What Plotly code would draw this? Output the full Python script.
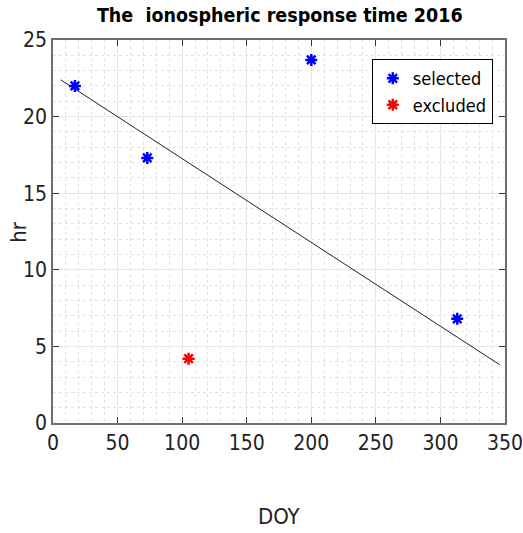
import plotly.graph_objects as go

# Day of year and response time (hours)
selected_doy = [17, 73, 200, 313]
selected_hr = [22.0, 17.3, 23.7, 6.8]
excluded_doy = [105]
excluded_hr = [4.2]

# Trend line end points
fit_doy = [6, 346]
fit_hr = [22.4, 3.8]

x_ticks = [0, 50, 100, 150, 200, 250, 300, 350]
y_ticks = [0, 5, 10, 15, 20, 25]

FONT = "DejaVu Sans Condensed, Liberation Sans, Arial, sans-serif"

fig = go.Figure()
fig.add_trace(go.Scatter(
    x=fit_doy, y=fit_hr, mode="lines",
    line=dict(color="#222222", width=1), showlegend=False, hoverinfo="skip"))
fig.add_trace(go.Scatter(
    x=selected_doy, y=selected_hr, mode="markers", name="selected",
    marker=dict(symbol="asterisk-open", size=10, color="blue",
                line=dict(color="blue", width=2.5))))
fig.add_trace(go.Scatter(
    x=excluded_doy, y=excluded_hr, mode="markers", name="excluded",
    marker=dict(symbol="asterisk-open", size=10, color="red",
                line=dict(color="red", width=2.5))))

axis_common = dict(
    showline=True, linecolor="#6e6e6e", linewidth=1.5, mirror="ticks",
    ticks="inside", ticklen=6, tickcolor="#333333",
    showgrid=True, gridcolor="#e6e6e6", gridwidth=1,
    zeroline=False, automargin=False, ticklabeloverflow="allow",
    tickfont=dict(family=FONT, size=21, color="#222222"),
)

fig.update_xaxes(
    range=[0, 350], tickvals=x_ticks,
    minor=dict(dtick=10, showgrid=True, gridcolor="#e2e2e2", griddash="dot", gridwidth=1),
    **axis_common)
fig.update_yaxes(
    range=[0, 25], tickvals=y_ticks,
    minor=dict(dtick=1, showgrid=True, gridcolor="#e2e2e2", griddash="dot", gridwidth=1),
    **axis_common)

fig.update_layout(
    width=523, height=533,
    margin=dict(l=53, r=18, t=40, b=110),
    paper_bgcolor="white", plot_bgcolor="white",
    title=dict(text="<b>The\u00a0 ionospheric response time 2016</b>",
               x=0.535, xanchor="center", y=0.972, yanchor="middle",
               font=dict(family=FONT, size=19.5, color="black")),
    legend=dict(x=0.973, y=0.95, xanchor="right", yanchor="top",
                bgcolor="white", bordercolor="black", borderwidth=1,
                font=dict(family=FONT, size=18, color="black"),
                itemwidth=30, tracegroupgap=4),
    showlegend=True,
)

fig.add_annotation(text="hr", xref="paper", yref="paper", x=-0.077, y=0.5,
                   textangle=-90, showarrow=False, xanchor="center", yanchor="middle",
                   font=dict(family=FONT, size=22, color="#222222"))
fig.add_annotation(text="DOY", xref="paper", yref="paper", x=0.5, y=-0.245,
                   showarrow=False, xanchor="center", yanchor="middle",
                   font=dict(family=FONT, size=22, color="#222222"))

fig.write_html("out.html")
